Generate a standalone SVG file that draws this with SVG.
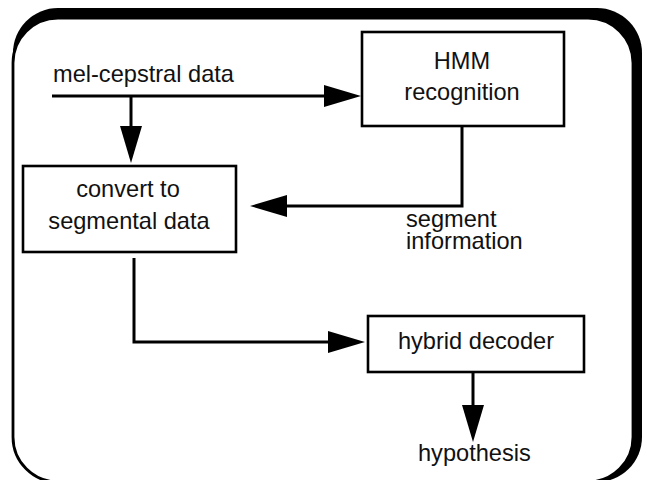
<svg xmlns="http://www.w3.org/2000/svg" width="645" height="480" viewBox="0 0 645 480">
<style>
.box{fill:#fff;stroke:#000;stroke-width:2.6}
.lbl{font-family:"Liberation Sans",Arial,sans-serif;font-size:23.6px;fill:#111}
.mid{text-anchor:middle}
.con{fill:none;stroke:#000;stroke-width:3}
</style>
<defs>
<marker id="ah" markerUnits="userSpaceOnUse" markerWidth="38" markerHeight="22" refX="0" refY="11" orient="auto" overflow="visible">
<path d="M0,0 L37,11 L0,22 z" fill="#000"/>
</marker>
</defs>
<g id="frame">
<rect x="13" y="8" width="629" height="474" rx="45" ry="45" fill="#000"/>
<rect x="13" y="18" width="620" height="464" rx="45" ry="45" fill="#fff" stroke="#000" stroke-width="2.8"/>
</g>
<g id="connectors">
<path class="con" d="M52,96 H324" marker-end="url(#ah)"/>
<path class="con" d="M131,97 V126" marker-end="url(#ah)"/>
<path class="con" d="M462,126 V206 H287" marker-end="url(#ah)"/>
<path class="con" d="M134,258 V342 H328" marker-end="url(#ah)"/>
<path class="con" d="M473,372 V405" marker-end="url(#ah)"/>
</g>
<g id="hmm">
<rect class="box" x="362" y="32" width="202" height="94"/>
<text class="lbl mid" x="462" y="69">HMM</text>
<text class="lbl mid" x="462" y="100">recognition</text>
</g>
<g id="convert">
<rect class="box" x="23" y="166" width="213" height="86"/>
<text class="lbl mid" x="128" y="197">convert to</text>
<text class="lbl mid" x="129" y="229">segmental data</text>
</g>
<g id="hybrid">
<rect class="box" x="368" y="316" width="216" height="56"/>
<text class="lbl mid" x="476" y="349">hybrid decoder</text>
</g>
<g id="labels">
<text class="lbl" x="53" y="82">mel-cepstral data</text>
<text class="lbl" x="406" y="227">segment</text>
<text class="lbl" x="406" y="249">information</text>
<text class="lbl" x="418" y="461">hypothesis</text>
</g>
</svg>
